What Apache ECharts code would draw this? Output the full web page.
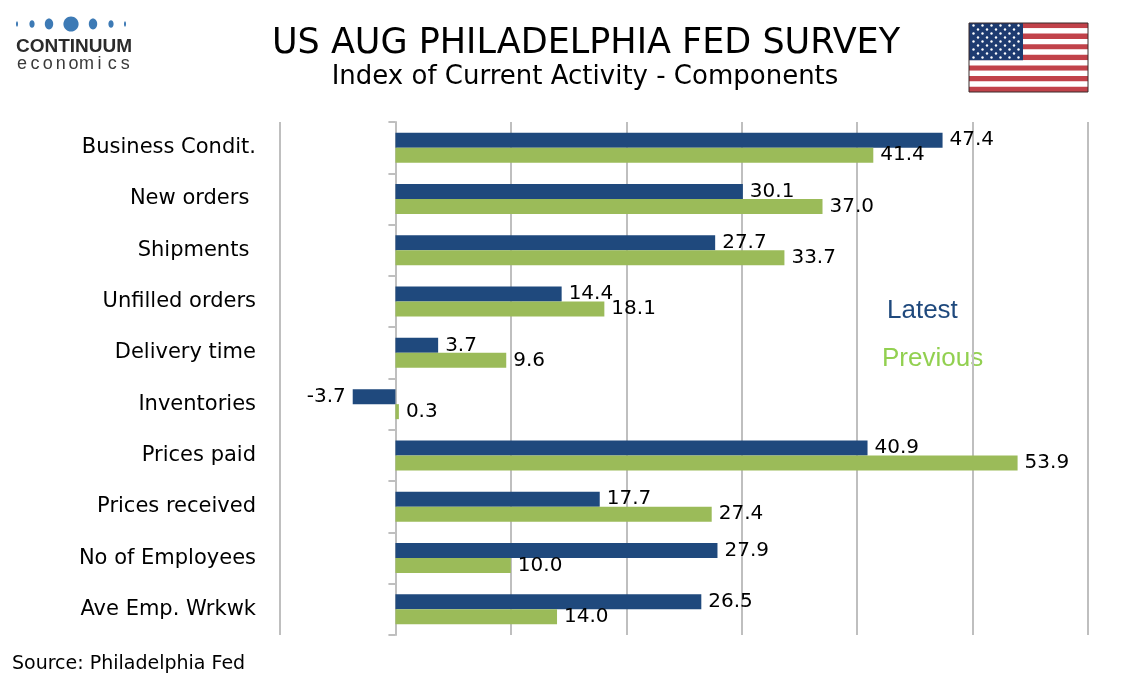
<!DOCTYPE html>
<html>
<head>
<meta charset="utf-8">
<title>US AUG Philadelphia Fed Survey</title>
<script src="https://cdn.jsdelivr.net/npm/echarts@6/dist/echarts.min.js"></script>
<style>
  html, body { margin: 0; padding: 0; background: #fff; }
  #chart { width: 1134px; height: 680px; }
</style>
</head>
<body>
<div id="chart"></div>
<script>
'use strict';

var categories = ['Business Condit.', 'New orders ', 'Shipments ', 'Unfilled orders', 'Delivery time',
  'Inventories', 'Prices paid', 'Prices received', 'No of Employees', 'Ave Emp. Wrkwk'];
var latest = [47.4, 30.1, 27.7, 14.4, 3.7, -3.7, 40.9, 17.7, 27.9, 26.5];
var previous = [41.4, 37.0, 33.7, 18.1, 9.6, 0.3, 53.9, 27.4, 10.0, 14.0];
var xTicks = [-10, 0, 10, 20, 30, 40, 50, 60];

var blue = '#1f497d';
var green = '#9bbb59';
var gridGray = '#bfbfbf';
var font = 'DejaVu Sans';

// negative bars get their label on the left side
function withLabels(arr) {
  return arr.map(function (v) {
    if (v < 0) return { value: v, label: { position: 'left' } };
    return v;
  });
}

/* logo + flag decorations */
var deco = [];

var dots = [[17, 1, 2.8], [32, 2.6, 3.8], [49, 4.2, 5.4], [71, 7.6, 7.6], [93, 4.2, 5.4], [111, 2.6, 3.8], [125, 1, 2.8]];
dots.forEach(function (d) {
  deco.push({ type: 'ellipse', shape: { cx: d[0], cy: 24, rx: d[1], ry: d[2] }, style: { fill: '#3d7ab5' } });
});
deco.push({ type: 'text', x: 16, y: 47,
  style: { text: 'CONTINUUM', font: 'bold 19px "Liberation Sans Narrow", "Liberation Sans"', fill: '#2b2b2b', verticalAlign: 'middle' } });
'economics'.split('').forEach(function (ch, i) {
  deco.push({ type: 'text', x: 22 + i * 12.9, y: 64,
    style: { text: ch, font: '18px "Liberation Sans"', fill: '#3a3a3a', align: 'center', verticalAlign: 'middle' } });
});

// flag
var fx = 969, fy = 23, fw = 119, fh = 69, sh = fh / 13;
for (var s = 0; s < 13; s++) {
  deco.push({ type: 'rect', shape: { x: fx, y: fy + s * sh, width: fw, height: sh },
    style: { fill: s % 2 === 0 ? '#c1424a' : '#ffffff' } });
}
var cw = 54, ch = sh * 7;
deco.push({ type: 'rect', shape: { x: fx, y: fy, width: cw, height: ch }, style: { fill: '#1e3b70' } });
for (var r = 0; r < 9; r++) {
  var n = r % 2 === 0 ? 6 : 5;
  for (var c = 0; c < n; c++) {
    var sx = fx + (r % 2 === 0 ? 4.5 + c * 9 : 9 + c * 9);
    var sy = fy + 2.5 + r * 4;
    deco.push({ type: 'circle', shape: { cx: sx, cy: sy, r: 1.2 }, style: { fill: '#ffffff' } });
  }
}
deco.push({ type: 'rect', shape: { x: fx, y: fy, width: fw, height: fh },
  style: { fill: 'none', stroke: '#3a2a2a', lineWidth: 1 } });

// titles, legend words, source
deco.push({ type: 'text', x: 586, y: 44,
  style: { text: 'US AUG PHILADELPHIA FED SURVEY', font: '35px "' + font + '"', fill: '#000', align: 'center', verticalAlign: 'middle' } });
deco.push({ type: 'text', x: 585, y: 77,
  style: { text: 'Index of Current Activity - Components', font: '26px "' + font + '"', fill: '#000', align: 'center', verticalAlign: 'middle' } });
deco.push({ type: 'text', x: 887, y: 311,
  style: { text: 'Latest', font: '26px "Liberation Sans"', fill: blue, verticalAlign: 'middle' } });
deco.push({ type: 'text', x: 882, y: 359,
  style: { text: 'Previous', font: '26px "Liberation Sans"', fill: '#92d050', verticalAlign: 'middle' } });
deco.push({ type: 'text', x: 12, y: 664,
  style: { text: 'Source: Philadelphia Fed', font: '19px "' + font + '"', fill: '#000', verticalAlign: 'middle' } });

var labelStyle = {
  show: true,
  position: 'right',
  distance: 7,
  fontFamily: font,
  fontSize: 20,
  color: '#000',
  formatter: function (p) { return p.value.toFixed(1); }
};

var chart = echarts.init(document.getElementById('chart'));
var option = {
  animation: false,
  backgroundColor: '#fff',
  grid: { left: 280, right: 46, top: 122, bottom: 45 },
  xAxis: {
    type: 'value',
    min: xTicks[0],
    max: xTicks[xTicks.length - 1],
    interval: 10,
    axisLabel: { show: false },
    axisLine: { show: false },
    axisTick: { show: false },
    splitLine: { lineStyle: { color: gridGray, width: 2 } }
  },
  yAxis: [
    {
      type: 'category',
      inverse: true,
      data: categories,
      axisLine: { onZero: true, lineStyle: { color: gridGray, width: 2 } },
      axisTick: { show: true, length: 7, lineStyle: { color: gridGray, width: 2 } },
      axisLabel: { show: false }
    },
    {
      type: 'category',
      inverse: true,
      position: 'left',
      data: categories,
      axisLine: { show: false, onZero: false },
      axisTick: { show: false },
      axisLabel: { margin: 24, fontFamily: font, fontSize: 21, color: '#000' }
    }
  ],
  series: [
    {
      name: 'Latest',
      type: 'bar',
      yAxisIndex: 0,
      barWidth: 15,
      barGap: '0%',
      itemStyle: { color: blue },
      label: labelStyle,
      data: withLabels(latest)
    },
    {
      name: 'Previous',
      type: 'bar',
      yAxisIndex: 0,
      barWidth: 15,
      barGap: '0%',
      itemStyle: { color: green },
      label: labelStyle,
      data: withLabels(previous)
    }
  ],
  graphic: deco
};
chart.setOption(option);
</script>
</body>
</html>
